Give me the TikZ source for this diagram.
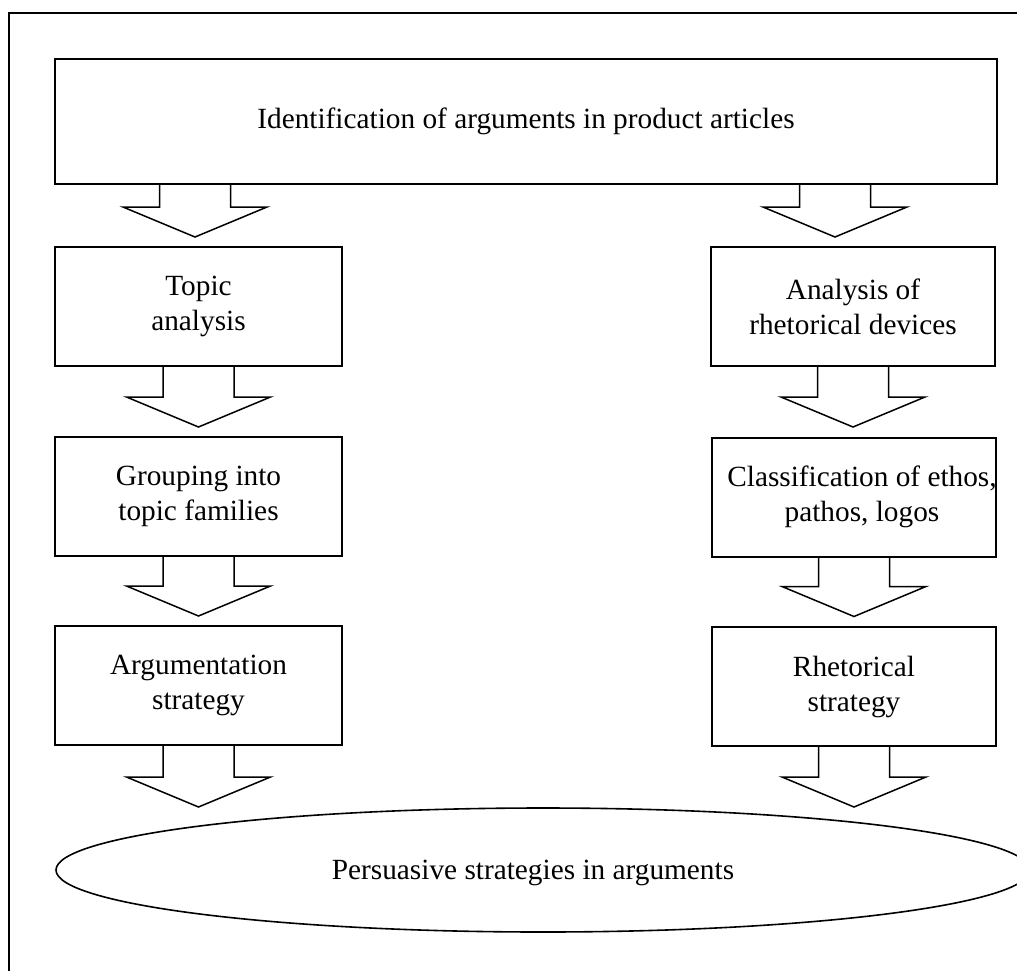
\documentclass[tikz,border=0pt]{standalone}
\usepackage{fontspec}
\setmainfont{Liberation Serif}
\usetikzlibrary{shapes.geometric,calc}
\begin{document}
\begin{tikzpicture}[x=1pt,y=-1pt,
  txt/.style={font=\fontsize{29.3}{35}\selectfont},
  box/.style={draw,line width=2pt,rectangle,inner sep=0pt,outer sep=0pt,
    minimum height=119pt,align=center,txt},
  blockarrow/.style={draw,line width=1.5pt,line join=miter},
  pics/barrow/.style={code={%
    \draw[blockarrow] (-35.5,0) -- (-35.5,#1) -- (-72,#1) -- (0,#1+30)
      -- (72,#1) -- (35.5,#1) -- (35.5,0);}}]
\useasboundingbox (0,0) rectangle (1017,970);
\clip (0,0) rectangle (1017,970);

% page frame
\draw[line width=2pt] (9,1100) -- (9,13) -- (1100,13);

% top box
\node[box,minimum width=942pt,minimum height=125pt] (top) at (526,121.5)
  {Identification of arguments in product articles};

% left column
\node[box,minimum width=287pt] (l1) at (198.5,306.5) {Topic\\analysis};
\node[box,minimum width=287pt] (l2) at (198.5,496.5) {Grouping into\\topic families};
\node[box,minimum width=287pt] (l3) at (198.5,685.5) {Argumentation\\strategy};

% right column
\node[box,minimum width=284pt] (r1) at (853,306.5) {Analysis of\\rhetorical devices};
\node[box,minimum width=284pt,
  label={[txt,align=center,xshift=8pt]center:Classification of ethos,\\pathos, logos}]
  (r2) at (854,497) {};
\node[box,minimum width=284pt] (r3) at (854,686.5) {Rhetorical\\strategy};

% result
\node[ellipse,draw,line width=1.6pt,inner sep=0pt,minimum width=974pt,
  minimum height=124pt] (goal) at (543,870) {};
\node[txt] (goaltext) at (533,873) {Persuasive strategies in arguments};

% block arrows
\pic at ([xshift=140pt]top.south west) {barrow=23};
\pic at ([xshift=-162pt]top.south east) {barrow=23};
\pic at (l1.south) {barrow=31};
\pic at (l2.south) {barrow=30};
\pic at (l3.south) {barrow=32};
\pic at (r1.south) {barrow=31};
\pic at (r2.south) {barrow=30};
\pic at (r3.south) {barrow=31};
\end{tikzpicture}
\end{document}
